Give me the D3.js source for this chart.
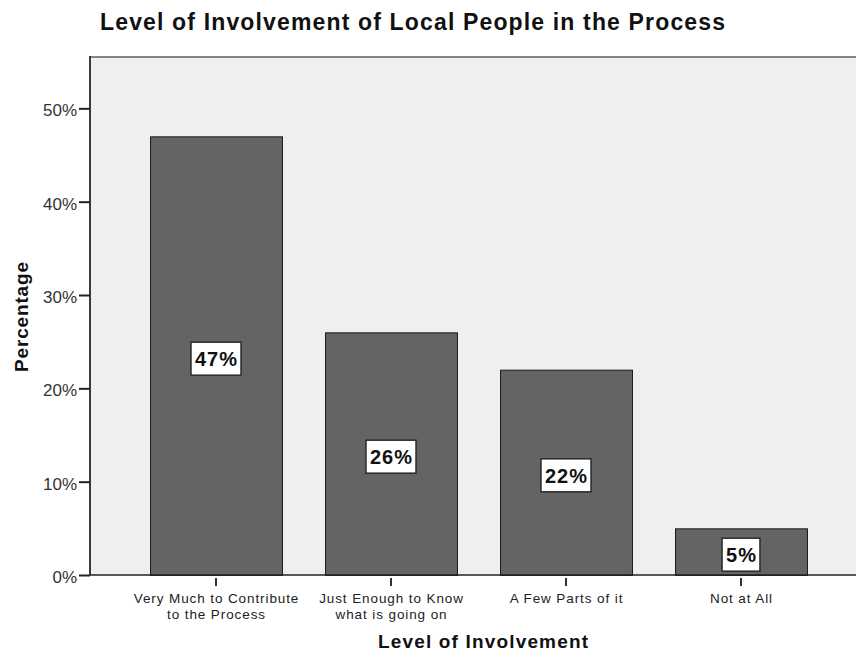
<!DOCTYPE html>
<html>
<head>
<meta charset="utf-8">
<script src="https://cdn.jsdelivr.net/npm/d3@7"></script>
<style>
  html, body { margin: 0; padding: 0; background: #fff; }
  svg { display: block; }
  text { font-family: "Liberation Sans", Arial, sans-serif; }
</style>
</head>
<body>
<svg id="chart" width="856" height="654"></svg>
<script>
// Survey responses: level of involvement of local people
const categories = [
  ["Very Much to Contribute", "to the Process"],
  ["Just Enough to Know", "what is going on"],
  ["A Few Parts of it"],
  ["Not at All"]
];
const percentages = [47, 26, 22, 5];
const yTicks = [0, 10, 20, 30, 40, 50];

const W = 856, H = 654;
const plot = { left: 90, top: 57, right: 880, bottom: 575 };

const svg = d3.select("#chart");

const y = d3.scaleLinear().domain([0, 55.5]).range([plot.bottom, plot.top]);
const x = d3.scaleBand()
  .domain(d3.range(categories.length))
  .range([128.5, 828.5])
  .paddingInner(0.246)
  .paddingOuter(0.123);

// plot background
svg.append("rect")
  .attr("x", plot.left).attr("y", plot.top)
  .attr("width", plot.right - plot.left).attr("height", plot.bottom - plot.top)
  .attr("fill", "#efefef");

// top frame line
svg.append("line")
  .attr("x1", plot.left).attr("x2", W)
  .attr("y1", plot.top).attr("y2", plot.top)
  .attr("stroke", "#858585").attr("stroke-width", 2);

// bars
svg.append("g").selectAll("rect")
  .data(percentages)
  .join("rect")
  .attr("x", (d, i) => x(i) + 0.5)
  .attr("y", d => y(d) + 0.5)
  .attr("width", x.bandwidth())
  .attr("height", d => plot.bottom - y(d))
  .attr("fill", "#646464")
  .attr("stroke", "#1a1a1a")
  .attr("stroke-width", 1);

// y axis
const yAxis = svg.append("g")
  .attr("transform", `translate(${plot.left},0)`)
  .call(d3.axisLeft(y).tickValues(yTicks).tickFormat(d => d + "%").tickSize(11).tickPadding(2));
yAxis.select(".domain").attr("stroke", "#3a3a3a").attr("stroke-width", 2)
  .attr("d", `M0,${plot.top - 1}V${plot.bottom}`);
yAxis.selectAll(".tick line").attr("stroke", "#222").attr("stroke-width", 2);
yAxis.selectAll(".tick text").attr("font-size", 17).attr("fill", "#333")
  .attr("dy", "0.45em")
  .attr("font-family", "Liberation Sans, Arial, sans-serif");

// x axis
const xAxis = svg.append("g")
  .attr("transform", `translate(0,${plot.bottom})`)
  .call(d3.axisBottom(x).tickSize(8).tickFormat(""));
xAxis.select(".domain").attr("stroke", "#222").attr("stroke-width", 1.5)
  .attr("d", `M${plot.left},0H${W}`);
xAxis.selectAll(".tick line").attr("stroke", "#333").attr("stroke-width", 2)
  .attr("y1", 3).attr("y2", 11);

// category labels (one or two lines each)
const catLabels = svg.append("g").selectAll("text")
  .data(categories)
  .join("text")
  .attr("text-anchor", "middle")
  .attr("font-size", 13.5)
  .attr("letter-spacing", 0.9)
  .attr("fill", "#222")
  .attr("transform", (d, i) => `translate(${x(i) + x.bandwidth() / 2 + 0.5},${603})`);
catLabels.selectAll("tspan")
  .data(d => d)
  .join("tspan")
  .attr("x", 0)
  .attr("dy", (d, j) => j === 0 ? 0 : 15.5)
  .text(d => d);

// value labels in white boxes
const labels = svg.append("g").selectAll("g")
  .data(percentages)
  .join("g")
  .attr("transform", (d, i) => `translate(${x(i) + x.bandwidth() / 2 + 0.5},${(y(d) + plot.bottom) / 2 + 3})`);
labels.append("rect")
  .attr("fill", "#fff").attr("stroke", "#2a2a2a").attr("stroke-width", 1.5);
labels.append("text")
  .attr("text-anchor", "middle")
  .attr("dy", "0.36em")
  .attr("font-size", 20)
  .attr("letter-spacing", 1)
  .attr("font-weight", "bold")
  .attr("fill", "#111")
  .text(d => d + "%");
labels.each(function () {
  const g = d3.select(this);
  const w = g.select("text").node().getComputedTextLength();
  g.select("rect")
    .attr("x", -w / 2 - 4).attr("y", -16.5)
    .attr("width", w + 7).attr("height", 33);
});

// titles
svg.append("text")
  .attr("x", 100).attr("y", 29.5)
  .attr("font-size", 23).attr("font-weight", "bold").attr("fill", "#111")
  .attr("textLength", 625).attr("lengthAdjust", "spacing")
  .text("Level of Involvement of Local People in the Process");

svg.append("text")
  .attr("transform", "translate(28,317) rotate(-90)")
  .attr("text-anchor", "middle")
  .attr("font-size", 19).attr("font-weight", "bold").attr("fill", "#111")
  .attr("textLength", 110).attr("lengthAdjust", "spacing")
  .text("Percentage");

svg.append("text")
  .attr("x", 483).attr("y", 648)
  .attr("text-anchor", "middle")
  .attr("font-size", 19).attr("font-weight", "bold").attr("fill", "#111")
  .attr("textLength", 210).attr("lengthAdjust", "spacing")
  .text("Level of Involvement");
</script>
</body>
</html>
